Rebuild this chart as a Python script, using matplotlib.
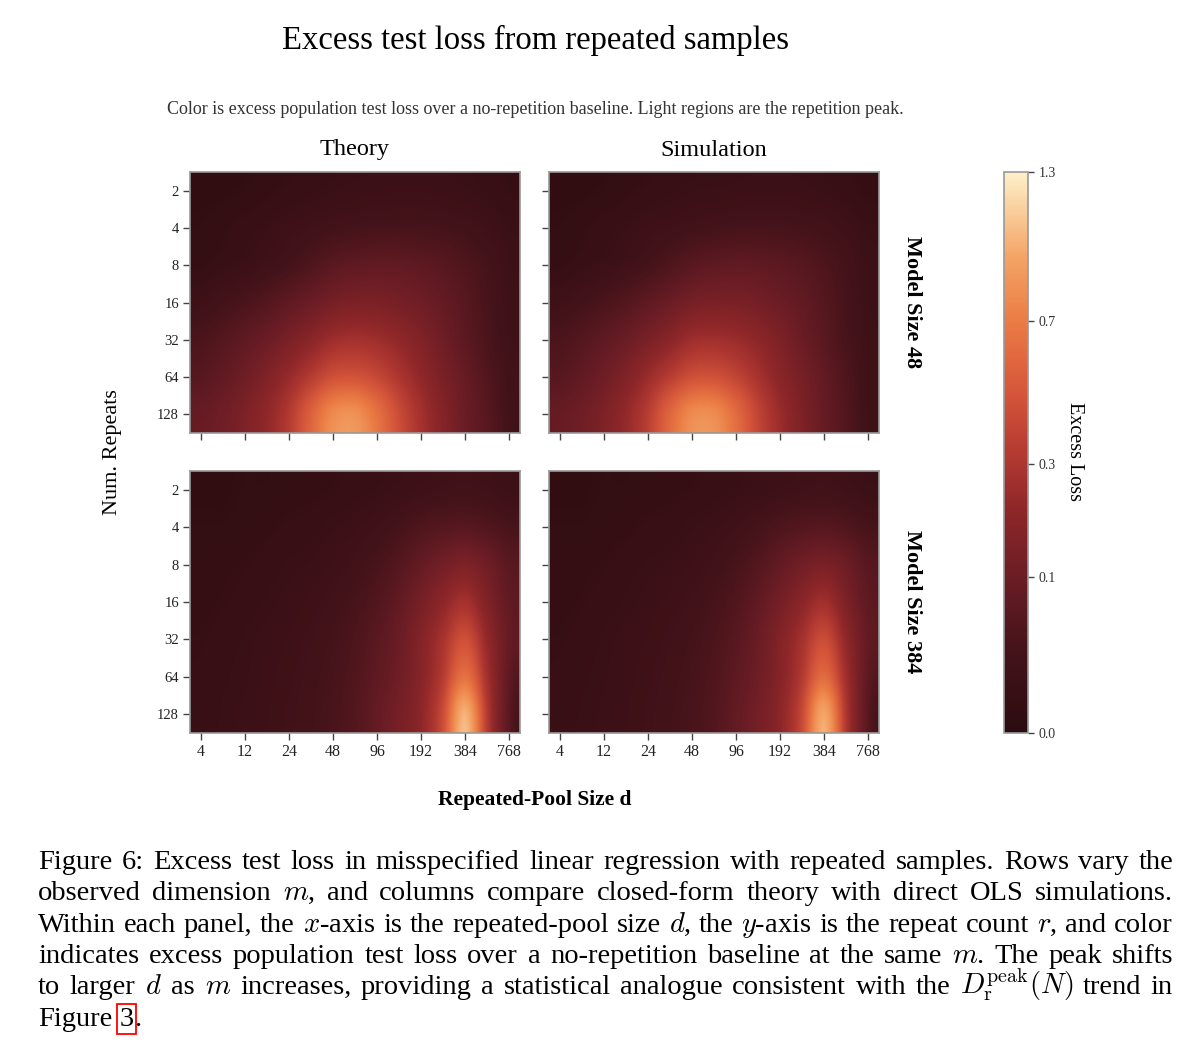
import numpy as np
import matplotlib
matplotlib.use('Agg')
import matplotlib.pyplot as plt
from matplotlib.colors import LinearSegmentedColormap, PowerNorm

plt.rcParams['font.family'] = ['Liberation Serif', 'DejaVu Serif']
plt.rcParams['mathtext.fontset'] = 'cm'

# ---------------- data ----------------
repeats = ['2', '4', '8', '16', '32', '64', '128']
pool_sizes = ['4', '12', '24', '48', '96', '192', '384', '768']
cbar_ticks = [0.0, 0.1, 0.3, 0.7, 1.3]

# rows = repeats (2 .. 128), columns = half steps between pool-size ticks (4 .. 768)
theory_48 = [
    [0.002, 0.002, 0.003, 0.005, 0.007, 0.009, 0.011, 0.013, 0.014, 0.015, 0.015, 0.014, 0.012, 0.009, 0.006],
    [0.003, 0.005, 0.008, 0.011, 0.016, 0.021, 0.026, 0.030, 0.033, 0.034, 0.033, 0.030, 0.025, 0.018, 0.011],
    [0.005, 0.009, 0.013, 0.020, 0.030, 0.045, 0.065, 0.075, 0.080, 0.078, 0.070, 0.060, 0.045, 0.030, 0.016],
    [0.018, 0.027, 0.038, 0.053, 0.075, 0.100, 0.130, 0.145, 0.145, 0.130, 0.110, 0.085, 0.060, 0.035, 0.018],
    [0.040, 0.055, 0.075, 0.100, 0.140, 0.190, 0.250, 0.270, 0.250, 0.210, 0.160, 0.110, 0.070, 0.040, 0.020],
    [0.060, 0.080, 0.110, 0.160, 0.230, 0.330, 0.440, 0.460, 0.400, 0.300, 0.210, 0.140, 0.090, 0.050, 0.025],
    [0.090, 0.110, 0.150, 0.210, 0.320, 0.540, 0.780, 0.820, 0.640, 0.420, 0.270, 0.170, 0.100, 0.060, 0.025],
]
sim_48 = [
    [0.002, 0.002, 0.003, 0.005, 0.007, 0.009, 0.011, 0.012, 0.013, 0.014, 0.014, 0.013, 0.011, 0.008, 0.005],
    [0.003, 0.005, 0.008, 0.011, 0.016, 0.020, 0.025, 0.029, 0.032, 0.033, 0.032, 0.029, 0.024, 0.017, 0.010],
    [0.005, 0.009, 0.013, 0.020, 0.030, 0.045, 0.063, 0.073, 0.078, 0.075, 0.068, 0.058, 0.043, 0.028, 0.015],
    [0.018, 0.027, 0.038, 0.053, 0.075, 0.100, 0.130, 0.140, 0.140, 0.125, 0.100, 0.080, 0.055, 0.032, 0.016],
    [0.040, 0.055, 0.075, 0.100, 0.140, 0.190, 0.250, 0.260, 0.240, 0.200, 0.150, 0.100, 0.065, 0.035, 0.018],
    [0.060, 0.080, 0.110, 0.160, 0.240, 0.340, 0.440, 0.450, 0.380, 0.280, 0.190, 0.130, 0.080, 0.045, 0.020],
    [0.090, 0.110, 0.150, 0.220, 0.340, 0.570, 0.780, 0.790, 0.600, 0.380, 0.240, 0.150, 0.090, 0.050, 0.020],
]
theory_384 = [
    [0.002, 0.002, 0.003, 0.003, 0.004, 0.005, 0.006, 0.008, 0.010, 0.013, 0.017, 0.021, 0.024, 0.020, 0.014],
    [0.003, 0.003, 0.004, 0.005, 0.007, 0.008, 0.011, 0.014, 0.020, 0.030, 0.045, 0.055, 0.060, 0.050, 0.035],
    [0.004, 0.005, 0.006, 0.008, 0.010, 0.012, 0.016, 0.023, 0.035, 0.055, 0.085, 0.120, 0.150, 0.110, 0.065],
    [0.005, 0.006, 0.008, 0.010, 0.013, 0.017, 0.023, 0.033, 0.050, 0.080, 0.130, 0.200, 0.270, 0.160, 0.080],
    [0.006, 0.008, 0.010, 0.013, 0.016, 0.021, 0.029, 0.042, 0.065, 0.100, 0.170, 0.280, 0.440, 0.220, 0.090],
    [0.007, 0.009, 0.011, 0.014, 0.018, 0.024, 0.033, 0.048, 0.075, 0.110, 0.180, 0.330, 0.640, 0.270, 0.075],
    [0.008, 0.010, 0.012, 0.015, 0.020, 0.026, 0.036, 0.052, 0.085, 0.130, 0.200, 0.420, 1.000, 0.330, 0.065],
]
sim_384 = [
    [0.002, 0.002, 0.003, 0.003, 0.004, 0.005, 0.006, 0.008, 0.010, 0.013, 0.016, 0.020, 0.023, 0.019, 0.013],
    [0.003, 0.003, 0.004, 0.005, 0.007, 0.008, 0.011, 0.014, 0.020, 0.029, 0.043, 0.053, 0.058, 0.048, 0.033],
    [0.004, 0.005, 0.006, 0.008, 0.010, 0.012, 0.016, 0.022, 0.034, 0.053, 0.082, 0.115, 0.140, 0.105, 0.062],
    [0.005, 0.006, 0.008, 0.010, 0.013, 0.017, 0.022, 0.032, 0.048, 0.078, 0.125, 0.190, 0.260, 0.150, 0.075],
    [0.006, 0.008, 0.010, 0.013, 0.016, 0.021, 0.028, 0.040, 0.062, 0.098, 0.165, 0.270, 0.420, 0.210, 0.085],
    [0.007, 0.009, 0.011, 0.014, 0.018, 0.024, 0.032, 0.046, 0.072, 0.108, 0.175, 0.320, 0.600, 0.260, 0.072],
    [0.008, 0.010, 0.012, 0.015, 0.020, 0.026, 0.035, 0.050, 0.082, 0.125, 0.195, 0.400, 0.940, 0.310, 0.062],
]

caption = [
    "Figure 6: Excess test loss in misspecified linear regression with repeated samples. Rows vary the",
    "observed dimension $m$, and columns compare closed-form theory with direct OLS simulations.",
    "Within each panel, the $x$-axis is the repeated-pool size $d$, the $y$-axis is the repeat count $r$, and color",
    "indicates excess population test loss over a no-repetition baseline at the same $m$. The peak shifts",
    r"to larger $d$ as $m$ increases, providing a statistical analogue consistent with the $D_{\mathrm{r}}^{\mathrm{peak}}(N)$ trend in",
]

# ---------------- figure ----------------
W, H = 1200, 1056
fig = plt.figure(figsize=(W / 100, H / 100), dpi=100)

def box(l, t, r, b):
    return [l / W, 1 - b / H, (r - l) / W, (b - t) / H]

cmap = LinearSegmentedColormap.from_list('excess', [
    (0.00, '#2b0c10'), (0.15, '#45131a'), (0.28, '#6c1d25'), (0.40, '#8f2729'),
    (0.48, '#ad3630'), (0.60, '#d4543a'), (0.73, '#ea7a44'), (0.85, '#f4a466'),
    (1.00, '#fdf0c9')])
norm = PowerNorm(gamma=0.5, vmin=0.0, vmax=1.3)

panels = [(theory_48, (190, 172, 520, 433), True, False),
          (sim_48, (549, 172, 879, 433), False, False),
          (theory_384, (190, 471, 520, 733), True, True),
          (sim_384, (549, 471, 879, 733), False, True)]

for data, pos, ylab, xlab in panels:
    ax = fig.add_axes(box(*pos))
    z = np.array(data)
    im = ax.imshow(z, cmap=cmap, norm=norm, aspect='auto', interpolation='catrom',
                   extent=(-0.25, 7.25, 6.5, -0.5))
    ax.set_xlim(-0.25, 7.25)
    ax.set_ylim(6.5, -0.5)
    ax.set_xticks(range(len(pool_sizes)))
    ax.set_yticks(range(len(repeats)))
    ax.set_xticklabels(pool_sizes if xlab else [])
    ax.set_yticklabels(repeats if ylab else [])
    ax.tick_params(axis='both', colors='#444444', length=5, width=1, labelcolor='#222222')
    ax.tick_params(axis='x', labelsize=11.5, pad=3)
    ax.tick_params(axis='y', labelsize=10.5, pad=3)
    for s in ax.spines.values():
        s.set_color('#999999')
        s.set_linewidth(1.2)

cax = fig.add_axes(box(1004, 172, 1028, 733))
cb = fig.colorbar(im, cax=cax)
cb.set_ticks(cbar_ticks)
cb.set_ticklabels(['%.1f' % t for t in cbar_ticks])
cb.ax.tick_params(labelsize=10, colors='#444444', labelcolor='#333333', length=4, width=1)
cb.outline.set_edgecolor('#999999')
cb.outline.set_linewidth(1.2)

def put(x, y, s, **kw):
    return fig.text(x / W, 1 - y / H, s, ha='center', va='center', **kw)

put(535, 40, 'Excess test loss from repeated samples', fontsize=23.5)
put(535, 110, 'Color is excess population test loss over a no-repetition baseline. '
              'Light regions are the repetition peak.', fontsize=13, color='#333333')
put(355, 150, 'Theory', fontsize=17.5)
put(714, 150, 'Simulation', fontsize=17.5)
put(112, 452, 'Num. Repeats', fontsize=16, rotation=90)
put(535, 800, 'Repeated-Pool Size d', fontsize=15.5, fontweight='bold')
put(912, 302, 'Model Size 48', fontsize=16, fontweight='bold', rotation=-90)
put(912, 602, 'Model Size 384', fontsize=16, fontweight='bold', rotation=-90)
put(1075, 452, 'Excess Loss', fontsize=14.5, rotation=-90)

# ---------------- justified caption ----------------
renderer = fig.canvas.get_renderer()
cap_fs = 20.5
x_left, x_right = 38, 1173
base0, step = 869, 31.3

def place_words(words, y):
    items = [fig.text(0, 1 - y / H, w, fontsize=cap_fs, ha='left', va='baseline')
             for w in words]
    widths = [t.get_window_extent(renderer).width for t in items]
    gap = (x_right - x_left - sum(widths)) / (len(words) - 1)
    x = x_left
    for t, w in zip(items, widths):
        t.set_x(x / W)
        x += w + gap

for i, line in enumerate(caption):
    place_words(line.split(' '), base0 + i * step)

last_y = base0 + len(caption) * step
t1 = fig.text(x_left / W, 1 - last_y / H, 'Figure', fontsize=cap_fs, ha='left', va='baseline')
w1 = t1.get_window_extent(renderer).width
x3 = x_left + w1 + 0.25 * cap_fs * 100 / 72
t2 = fig.text(x3 / W, 1 - last_y / H, '3', fontsize=cap_fs, ha='left', va='baseline')
w2 = t2.get_window_extent(renderer).width
t2.set_bbox(dict(boxstyle='square,pad=0.08', fc='none', ec='red', lw=1.3))
fig.text((x3 + w2 + 1) / W, 1 - last_y / H, '.', fontsize=cap_fs, ha='left', va='baseline')

fig.savefig('out.png', dpi=100)
